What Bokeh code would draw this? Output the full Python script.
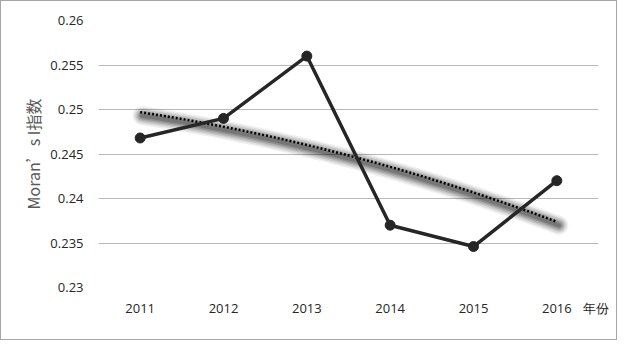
import numpy as np
from bokeh.plotting import figure
from bokeh.models import Range1d, FixedTicker, CustomJSTickFormatter
from bokeh.embed import file_html
from bokeh.resources import INLINE

# ---- data ----
years = ["2011", "2012", "2013", "2014", "2015", "2016"]
moran_i = [0.2468, 0.2490, 0.2560, 0.2370, 0.2346, 0.2420]
y_ticks = [0.23, 0.235, 0.24, 0.245, 0.25, 0.255, 0.26]
y_title = "Moran’s I指数"
x_title = "年份"

xs = list(range(1, len(years) + 1))

# second-order polynomial trend (as in the reference)
coef = np.polyfit(xs, moran_i, 2)
tx = np.linspace(xs[0], xs[-1], 60)
ty = np.polyval(coef, tx)

W, H = 617, 340
MB_L, MB_R, MB_T, MB_B = 97, 20, 19, 54
frame_h = H - MB_T - MB_B
frame_w = W - MB_L - MB_R
unit_px = frame_w / len(years)

p = figure(width=W, height=H, output_backend="svg", toolbar_location=None,
           x_range=Range1d(0.5, len(years) + 0.5),
           y_range=Range1d(y_ticks[0], y_ticks[-1]),
           min_border_left=MB_L, min_border_right=MB_R,
           min_border_top=MB_T, min_border_bottom=MB_B)
p.styles = {"border": "1px solid #a6a6a6"}
p.outline_line_color = None
p.background_fill_color = "white"
p.border_fill_color = "white"

# grid
p.xgrid.grid_line_color = None
p.ygrid.grid_line_color = "#b8b8b8"
p.ygrid.grid_line_width = 1

# axes
tick_font = "Open Sans"
p.yaxis.ticker = FixedTicker(ticks=y_ticks)
p.yaxis.formatter = CustomJSTickFormatter(code="return String(+tick.toFixed(4));")
# extra tick, right of the last year, carries the axis title "年份"
title_tick = xs[-1] + 39 / unit_px
p.xaxis.ticker = FixedTicker(ticks=xs + [title_tick])
p.xaxis.formatter = CustomJSTickFormatter(
    args=dict(labels=years, extra=x_title),
    code="""
    const r = Math.round(tick);
    if (Math.abs(tick - r) > 0.01) return extra;
    return labels[r - 1];
    """)
for ax in (p.xaxis[0], p.yaxis[0]):
    ax.axis_line_color = None
    ax.major_tick_line_color = None
    ax.minor_tick_line_color = None
    ax.major_tick_in = 0
    ax.major_tick_out = 0
    ax.major_label_text_font = tick_font
    ax.major_label_text_font_size = "13px"
    ax.major_label_text_color = "#262626"
p.yaxis.major_label_standoff = 15
p.xaxis.major_label_standoff = 11
p.yaxis.axis_label = y_title
p.yaxis.axis_label_text_font = "Noto Sans CJK SC"
p.yaxis.axis_label_text_font_size = "16px"
p.yaxis.axis_label_text_font_style = "normal"
p.yaxis.axis_label_text_color = "#595959"
p.yaxis.axis_label_standoff = 2

# trend shadow (soft, offset down-right)
px_y = (y_ticks[-1] - y_ticks[0]) / frame_h
px_x = 1 / unit_px
for w, a in [(19, 0.06), (16, 0.08), (13, 0.10), (10, 0.13), (7, 0.16), (4, 0.18)]:
    p.line(tx + 2 * px_x, ty - 3.5 * px_y, line_color="black", line_alpha=a,
           line_width=w, line_cap="round")

# trend (dotted)
p.line(tx, ty, line_color="black", line_width=2.5, line_dash="2 2")

# data line
p.line(xs, moran_i, line_color="#262626", line_width=3.5)
p.scatter(xs, moran_i, marker="circle", size=10, fill_color="#262626",
          line_color="#262626")

open("out.html", "w").write(file_html(p, INLINE))
